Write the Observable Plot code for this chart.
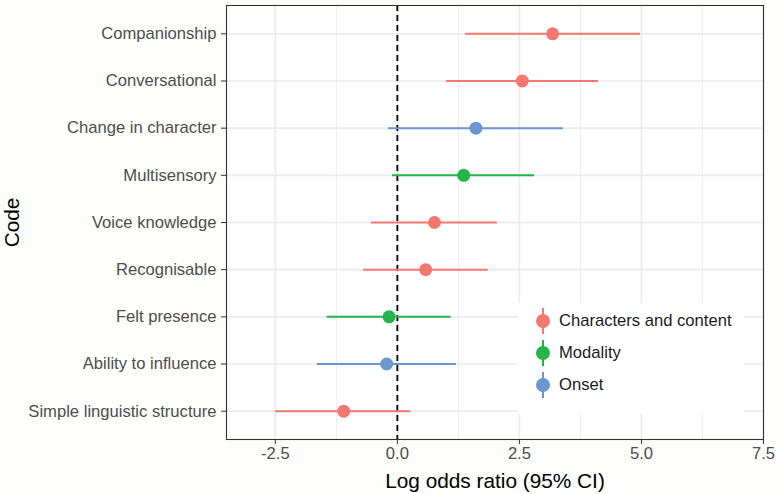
<!DOCTYPE html>
<html>
<head>
<meta charset="utf-8">
<script src="https://cdn.jsdelivr.net/npm/d3@7"></script>
<script src="https://cdn.jsdelivr.net/npm/@observablehq/plot@0.6"></script>
<style>
  html, body { margin: 0; padding: 0; background: #fdfdfb; }
  #wrap { position: relative; width: 777px; height: 494px; font-family: "Liberation Sans", Arial, sans-serif; }
  #legend { position: absolute; left: 518px; top: 303px; width: 226px; height: 111px; background: #ffffff; }
  .item { position: absolute; left: 16px; height: 26px; display: flex; align-items: center; font-size: 16.6px; color: #1a1a1a; }
  .item svg { margin-right: 7px; }
</style>
</head>
<body>
<div id="wrap"></div>
<script>
const codes = ["Companionship","Conversational","Change in character","Multisensory","Voice knowledge","Recognisable","Felt presence","Ability to influence","Simple linguistic structure"];
const codeGroup = ["Characters and content","Characters and content","Onset","Modality","Characters and content","Characters and content","Modality","Onset","Characters and content"];
const estimate = [3.18, 2.56, 1.61, 1.36, 0.76, 0.58, -0.17, -0.22, -1.10];
const lower = [1.40, 1.01, -0.18, -0.10, -0.53, -0.69, -1.44, -1.64, -2.49];
const upper = [4.98, 4.12, 3.40, 2.81, 2.05, 1.86, 1.10, 1.21, 0.28];
const groups = ["Characters and content","Modality","Onset"];
const groupColors = ["#F5776F","#25B34B","#6D96D0"];
const xTicks = [-2.5, 0, 2.5, 5, 7.5];
const xMinorTicks = [-1.25, 1.25, 3.75, 6.25];
const xDomain = [-3.5, 7.5];

const data = codes.map((c, i) => ({code: c, group: codeGroup[i], est: estimate[i], lo: lower[i], hi: upper[i]}));
const font = "'Liberation Sans', Arial, sans-serif";

const chart = Plot.plot({
  width: 777,
  height: 494,
  marginLeft: 226,
  marginRight: 14,
  marginTop: 5,
  marginBottom: 55,
  style: {fontFamily: font, background: "transparent", overflow: "visible"},
  x: {domain: xDomain},
  y: {type: "point", domain: codes, padding: 0.6, round: false},
  color: {domain: groups, range: groupColors},
  marks: [
    Plot.frame({fill: "#ffffff", stroke: null}),
    Plot.gridX(xMinorTicks, {stroke: "#ebebeb", strokeOpacity: 1, strokeWidth: 0.9}),
    Plot.gridX(xTicks, {stroke: "#ebebeb", strokeOpacity: 1, strokeWidth: 1.7}),
    Plot.gridY(codes, {stroke: "#ebebeb", strokeOpacity: 1, strokeWidth: 1.7}),
    Plot.ruleX([0], {stroke: "#000", strokeWidth: 1.8, strokeDasharray: "6,4"}),
    Plot.ruleY(data, {y: "code", x1: "lo", x2: "hi", stroke: "group", strokeWidth: 2}),
    Plot.dot(data, {x: "est", y: "code", fill: "group", r: 6.5, stroke: null}),
    Plot.frame({stroke: "#333333", strokeWidth: 1.1}),
    Plot.axisX(xTicks, {
      tickFormat: d => d.toFixed(1),
      tickSize: 5, tickPadding: 3, stroke: "#333333", fill: "#4d4d4d", fontSize: 16.6,
      label: "Log odds ratio (95% CI)", labelAnchor: "center", labelArrow: "none", labelOffset: 48
    }),
    Plot.axisY(codes, {
      tickSize: 5, tickPadding: 5, stroke: "#333333", fill: "#4d4d4d", fontSize: 16.6,
      label: "Code", labelAnchor: "center", labelArrow: "none", labelOffset: 222
    })
  ]
});
chart.querySelectorAll("g[aria-label='x-axis label'], g[aria-label='y-axis label']").forEach(g => {
  g.setAttribute("font-size", "20.8"); g.setAttribute("fill", "#000");
  g.querySelectorAll("text").forEach(t => { t.setAttribute("font-size", "20.8"); t.setAttribute("fill", "#000"); t.style.fontSize = "20.8px"; });
});

const wrap = document.getElementById("wrap");
wrap.appendChild(chart);

const legend = document.createElement("div");
legend.id = "legend";
groups.forEach((g, i) => {
  const item = document.createElement("div");
  item.className = "item";
  item.style.top = (5 + i * 32) + "px";
  item.innerHTML = `<svg width="18" height="26"><line x1="9" x2="9" y1="0" y2="26" stroke="${groupColors[i]}" stroke-width="2"/><circle cx="9" cy="13" r="7" fill="${groupColors[i]}"/></svg><span>${g}</span>`;
  legend.appendChild(item);
});
wrap.appendChild(legend);
</script>
</body>
</html>
